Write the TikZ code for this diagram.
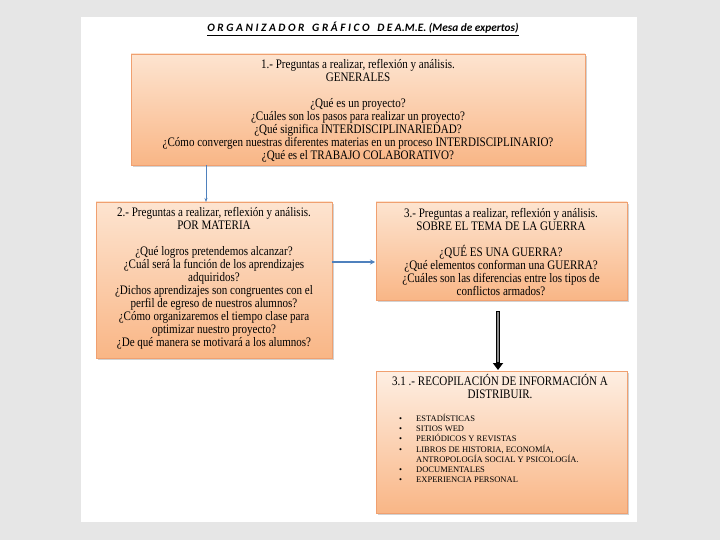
\documentclass[tikz,border=0pt]{standalone}
\usepackage{fontspec}
\setmainfont{Liberation Serif}
\newfontfamily\boxfont[FakeStretch=0.85]{Liberation Serif}
\newfontfamily\titlefont{Carlito}
\usetikzlibrary{arrows.meta,shadows}
\definecolor{bgpage}{HTML}{E6E6E6}
\definecolor{peachtop}{HTML}{FDE4D0}
\definecolor{peachbot}{HTML}{F9B686}
\definecolor{peachedge}{HTML}{F0A070}
\definecolor{linkblue}{HTML}{4F81BD}
\newcommand{\bul}{\makebox[17pt][l]{\textbullet}}
\tikzset{
  x=1pt, y=-1pt,
  qbox/.style={draw=peachedge, line width=0.6pt, top color=peachtop, bottom color=peachbot,
    drop shadow={shadow xshift=2pt, shadow yshift=-2pt, fill=black!35, opacity=0.5}},
  qtext/.style={align=center, inner sep=0pt, text=black,
    font=\boxfont\fontsize{13}{13}\selectfont},
  blink/.style={draw=linkblue, line width=0.8pt, -{Stealth[length=4pt,width=3pt]}},
}
\begin{document}
\begin{tikzpicture}
\useasboundingbox (0,0) rectangle (720,540);
\fill[bgpage] (0,0) rectangle (720,540);
\fill[white] (81,17) rectangle (637,522);

% title
\node (title) at (363,29) {\titlefont\bfseries\itshape\fontsize{11.3}{12}\selectfont
  \underline{O R G A N I Z A D O R\ \ \ G R Á F I C O\ \ \ D E A.M.E. (Mesa de expertos)}};

% boxes
\path[qbox] (131,54) rectangle (585,165);
\coordinate (b1s) at (206,165);
\node[qtext] (b1) at (358,111) {1.- Preguntas a realizar, reflexión y análisis.\\
GENERALES\\[13pt]
¿Qué es un proyecto?\\
¿Cuáles son los pasos para realizar un proyecto?\\
¿Qué significa INTERDISCIPLINARIEDAD?\\
¿Cómo convergen nuestras diferentes materias en un proceso INTERDISCIPLINARIO?\\
¿Qué es el TRABAJO COLABORATIVO?};

\path[qbox] (96,202) rectangle (332,358);
\coordinate (b2n) at (206,202);
\coordinate (b2e) at (332,262);
\node[qtext] (b2) at (214,278) {2.- Preguntas a realizar, reflexión y análisis.\\
POR MATERIA\\[13pt]
¿Qué logros pretendemos alcanzar?\\
¿Cuál será la función de los aprendizajes\\
adquiridos?\\
¿Dichos aprendizajes son congruentes con el\\
perfil de egreso de nuestros alumnos?\\
¿Cómo organizaremos el tiempo clase para\\
optimizar nuestro proyecto?\\
¿De qué manera se motivará a los alumnos?};

\path[qbox] (376,202) rectangle (627,300);
\coordinate (b3w) at (375,262);
\coordinate (b3s) at (498,311);
\node[qtext] (b3) at (501,252) {3.- Preguntas a realizar, reflexión y análisis.\\
SOBRE EL TEMA DE LA GUERRA\\[13pt]
¿QUÉ ES UNA GUERRA?\\
¿Qué elementos conforman una GUERRA?\\
¿Cuáles son las diferencias entre los tipos de\\
conflictos armados?};

\path[qbox, top color=peachtop!60!white] (376,371) rectangle (627,513);
\coordinate (b4n) at (498,370);
\node[qtext] (b4t) at (500,387) {3.1 .- RECOPILACIÓN DE INFORMACIÓN A\\ DISTRIBUIR.};
\node[inner sep=0pt, anchor=north west, align=left,
  font=\rmfamily\fontsize{8.5}{10.2}\selectfont] (b4l) at (399,414)
{\bul ESTADÍSTICAS\\
\bul SITIOS WED\\
\bul PERIÓDICOS Y REVISTAS\\
\bul LIBROS DE HISTORIA, ECONOMÍA,\\
\hspace*{17pt}ANTROPOLOGÍA SOCIAL Y PSICOLOGÍA.\\
\bul DOCUMENTALES\\
\bul EXPERIENCIA PERSONAL};

% connectors
\draw[blink] (b1s) -- (b2n);
\draw[blink, line width=1.6pt, -{Stealth[length=5pt,width=5pt]}] (b2e) -- (b3w);
\draw[draw=black, line width=3.5pt, -{Triangle[length=7pt,width=10pt]}] (b3s) -- (b4n);
\draw[draw=black!45, line width=1.5pt] (498,312) -- (498,362);
\end{tikzpicture}
\end{document}
